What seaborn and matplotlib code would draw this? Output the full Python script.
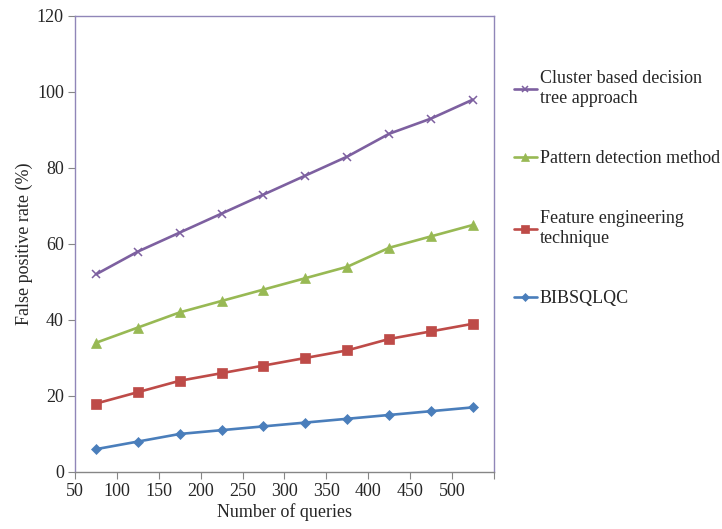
import matplotlib
matplotlib.use("Agg")
import matplotlib.pyplot as plt
import seaborn as sns
import pandas as pd

queries = [75, 125, 175, 225, 275, 325, 375, 425, 475, 525]
bibsqlqc = [6, 8, 10, 11, 12, 13, 14, 15, 16, 17]
feature = [18, 21, 24, 26, 28, 30, 32, 35, 37, 39]
pattern = [34, 38, 42, 45, 48, 51, 54, 59, 62, 65]
cluster = [52, 58, 63, 68, 73, 78, 83, 89, 93, 98]

names = ["BIBSQLQC", "Feature engineering\ntechnique", "Pattern detection method",
         "Cluster based decision\ntree approach"]
series = [bibsqlqc, feature, pattern, cluster]
colors = ["#4a7ebb", "#be4b48", "#98b954", "#7d60a0"]
markers = ["D", "s", "^", "x"]
msizes = [5, 6.5, 6.5, 6]

rows = []
for n, s in zip(names, series):
    for q, v in zip(queries, s):
        rows.append({"q": q, "v": v, "series": n})
df = pd.DataFrame(rows)

sns.set_style("white")
plt.rcParams["font.family"] = ["Liberation Serif", "DejaVu Serif"]

fig = plt.figure(figsize=(7.22, 5.29), dpi=100)
ax = fig.add_axes([0.1039, 0.1078, 0.684 - 0.1039, 0.9698 - 0.1078])

for n, s, c, m, ms in zip(names, series, colors, markers, msizes):
    sub = df[df["series"] == n]
    sns.lineplot(data=sub, x="q", y="v", ax=ax, color=c, marker=m, markersize=ms,
                 linewidth=1.9, markeredgecolor=c, markeredgewidth=1.1 if m == "x" else 0.5,
                 label=n)

ax.set_xlim(50, 550)
ax.set_ylim(0, 120)
ax.set_xticks(range(50, 551, 50))
ax.set_xticklabels([str(v) for v in range(50, 501, 50)] + [""])
ax.set_yticks(range(0, 121, 20))
ax.tick_params(axis="both", labelsize=13, length=5, width=0.8, color="#868686",
               direction="out", bottom=True, left=True, pad=3)
ax.set_xlabel("Number of queries", fontsize=13, labelpad=2)
ax.set_ylabel("False positive rate (%)", fontsize=13, labelpad=3)

for side in ["left", "top", "right"]:
    ax.spines[side].set_color("#9086b8")
    ax.spines[side].set_linewidth(1.0)
ax.spines["bottom"].set_color("#868686")
ax.spines["bottom"].set_linewidth(1.0)

h, l = ax.get_legend_handles_labels()
leg = ax.legend(h[::-1], l[::-1], loc="upper left", bbox_to_anchor=(1.03, 0.897),
                frameon=False, fontsize=13, labelspacing=2.4, handlelength=1.3,
                handletextpad=0.15, borderaxespad=0, markerscale=0.8)

fig.savefig("out.png", dpi=100)
